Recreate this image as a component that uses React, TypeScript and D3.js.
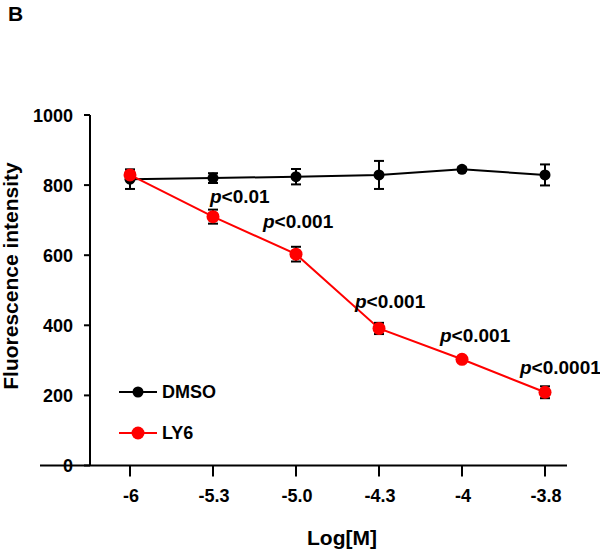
import React from "react";
import * as d3 from "d3";

const categories = ["-6", "-5.3", "-5.0", "-4.3", "-4", "-3.8"];
const dmsoValues = [817, 820, 824, 829, 845, 829];
const dmsoErrors = [28, 14, 22, 40, 5, 30];
const ly6Values = [829, 710, 603, 391, 303, 209];
const ly6Errors = [10, 20, 21, 16, 5, 17];
const yTicks = [0, 200, 400, 600, 800, 1000];
const pLabels = ["p<0.01", "p<0.001", "p<0.001", "p<0.001", "p<0.0001"];
const pLabelIndex = [1, 2, 3, 4, 5];

const W = 600;
const H = 551;
const FONT = "'Liberation Sans', Arial, sans-serif";

export default function App() {
  const x = d3.scalePoint<string>().domain(categories).range([130, 545]);
  const y = d3.scaleLinear().domain([0, 1000]).range([465.5, 115]);
  const line = d3
    .line<number>()
    .x((_, i) => x(categories[i]) as number)
    .y((d) => y(d));

  const series = [
    { name: "DMSO", values: dmsoValues, errors: dmsoErrors, color: "#000000", r: 5.5 },
    { name: "LY6", values: ly6Values, errors: ly6Errors, color: "#ff0000", r: 6.5 },
  ];

  const pOffsets = [
    { dx: -3, y: 203 },
    { dx: -33, y: 228 },
    { dx: -24, y: 308 },
    { dx: -22, y: 342 },
    { dx: -25, y: 374 },
  ];

  return (
    <svg
      width={W}
      height={H}
      style={{ position: "absolute", left: 0, top: 0, background: "#fff" }}
      fontFamily={FONT}
      fontWeight="bold"
    >
      <rect x={0} y={0} width={W} height={H} fill="#fff" />
      <text x={8} y={21} fontSize={21}>B</text>

      {/* Y axis */}
      <line x1={90} x2={90} y1={y(1000)} y2={y(0)} stroke="#000" strokeWidth={2} />
      {yTicks.map((t) => (
        <g key={t}>
          <line x1={84} x2={90} y1={y(t)} y2={y(t)} stroke="#000" strokeWidth={2} />
          <text x={73} y={y(t) + 6.5} fontSize={18} textAnchor="end">{t}</text>
        </g>
      ))}
      <text
        transform={`translate(18,276) rotate(-90)`}
        fontSize={21}
        textAnchor="middle"
      >
        Fluorescence intensity
      </text>

      {/* X axis */}
      <line x1={40} x2={567} y1={y(0)} y2={y(0)} stroke="#000" strokeWidth={2} />
      {categories.map((c) => (
        <g key={c}>
          <line x1={x(c)} x2={x(c)} y1={y(0)} y2={y(0) + 11} stroke="#000" strokeWidth={2} />
          <text x={(x(c) as number) + 1} y={502} fontSize={18} textAnchor="middle">{c}</text>
        </g>
      ))}
      <text x={342} y={545} fontSize={21} textAnchor="middle">Log[M]</text>

      {/* Lines */}
      {series.map((s) => (
        <path key={s.name} d={line(s.values) || ""} fill="none" stroke={s.color} strokeWidth={2} />
      ))}

      {/* Error bars */}
      {series.map((s) =>
        s.values.map((v, i) => {
          const cx = x(categories[i]) as number;
          const yt = y(v + s.errors[i]);
          const yb = y(v - s.errors[i]);
          return (
            <g key={s.name + i} stroke="#000" strokeWidth={2}>
              <line x1={cx} x2={cx} y1={yt} y2={yb} />
              <line x1={cx - 5} x2={cx + 5} y1={yt} y2={yt} />
              <line x1={cx - 5} x2={cx + 5} y1={yb} y2={yb} />
            </g>
          );
        })
      )}

      {/* Markers */}
      {series.map((s) =>
        s.values.map((v, i) => (
          <circle key={s.name + "m" + i} cx={x(categories[i])} cy={y(v)} r={s.r} fill={s.color} />
        ))
      )}

      {/* p labels */}
      {pLabels.map((lbl, k) => {
        const cx = x(categories[pLabelIndex[k]]) as number;
        return (
          <text key={k} x={cx + pOffsets[k].dx} y={pOffsets[k].y} fontSize={19}>
            <tspan fontStyle="italic">p</tspan>
            {lbl.slice(1)}
          </text>
        );
      })}

      {/* Legend */}
      {series.map((s, i) => {
        const ly = i === 0 ? 392 : 433;
        return (
          <g key={s.name + "leg"}>
            <line x1={119} x2={157} y1={ly} y2={ly} stroke={s.color} strokeWidth={2} />
            <circle cx={138} cy={ly} r={s.r} fill={s.color} />
            <text x={162} y={ly + 6} fontSize={18}>{s.name}</text>
          </g>
        );
      })}
    </svg>
  );
}
